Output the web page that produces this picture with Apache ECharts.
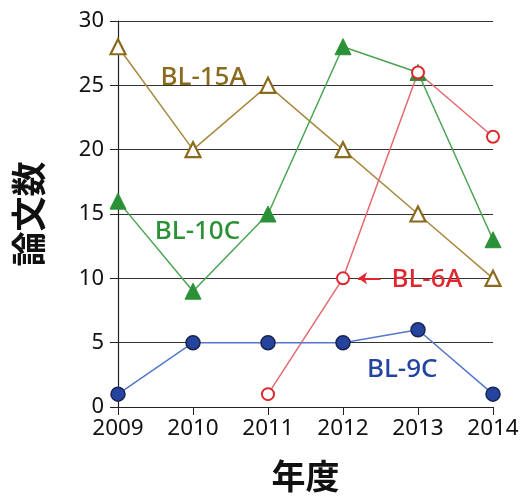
<!DOCTYPE html>
<html><head><meta charset="utf-8">
<script src="https://cdn.jsdelivr.net/npm/echarts@6/dist/echarts.min.js"></script>
<style>html,body{margin:0;padding:0;background:#fff}#c{width:526px;height:497px}</style>
</head><body><div id="c"></div>
<script>
const years = [2009, 2010, 2011, 2012, 2013, 2014];
const bl15A = [28, 20, 25, 20, 15, 10];
const bl10C = [16, 9, 15, 28, 26, 13];
const bl6A = [null, null, 1, 10, 26, 21];
const bl9C = [1, 5, 5, 5, 6, 1];
const yTicks = [0, 5, 10, 15, 20, 25, 30];

const pairs = arr => years.map((y, i) => [y, arr[i]]).filter(p => p[1] !== null);
const F = 'Noto Sans, DejaVu Sans, sans-serif';
const C15 = '#8a6a1c', C15L = '#a8893f';
const C10 = '#2b9136', C10L = '#4aa552';
const C6 = '#e0262e', C6L = '#e56a6f';
const C9 = '#2444a0', C9L = '#5478c8';

function label(text, x, y, color) {
  return { coord: [x, y], symbol: 'circle', symbolSize: 0,
    label: { show: true, position: 'inside', formatter: text, color: color, fontSize: 26, fontWeight: 500, fontFamily: F } };
}

const chart = echarts.init(document.getElementById('c'));
chart.setOption({
  animation: false,
  grid: { left: 118, right: 33, top: 21, bottom: 90, outerBoundsMode: 'none', containLabel: false },
  xAxis: {
    type: 'value', min: 2009, max: 2014, interval: 1,
    name: '年度', nameLocation: 'middle', nameGap: 52,
    nameTextStyle: { fontSize: 34, fontWeight: 'bold', color: '#111', fontFamily: 'Noto Sans CJK JP' },
    axisLine: { lineStyle: { color: '#222', width: 1.2 } },
    axisTick: { show: true, length: 8, lineStyle: { color: '#222' } },
    axisLabel: { formatter: v => String(v), fontSize: 22.5, color: '#111', margin: 10, fontFamily: F },
    splitLine: { show: false }
  },
  yAxis: {
    type: 'value', min: 0, max: 30, interval: 5,
    name: '論文数', nameLocation: 'middle', nameGap: 72, nameRotate: 90,
    nameTextStyle: { fontSize: 35, fontWeight: 'bold', color: '#111', fontFamily: 'Noto Sans CJK JP' },
    axisLine: { show: true, lineStyle: { color: '#222', width: 1.2 } },
    axisTick: { show: true, length: 8, lineStyle: { color: '#222' } },
    axisLabel: { fontSize: 22, color: '#111', margin: 14, fontFamily: F,
      formatter: v => yTicks.includes(v) ? String(v) : '' },
    splitLine: { show: true, lineStyle: { color: '#333', width: 1.2 } }
  },
  series: [
    { name: 'BL-15A', type: 'line', data: pairs(bl15A), symbol: 'triangle', symbolSize: 15,
      lineStyle: { color: C15L, width: 1.5 }, itemStyle: { color: '#fff', borderColor: C15, borderWidth: 2.2 },
      markPoint: { silent: true, data: [label('BL-15A', 2010.14, 25.6, C15)] } },
    { name: 'BL-10C', type: 'line', data: pairs(bl10C), symbol: 'triangle', symbolSize: 16,
      lineStyle: { color: C10L, width: 1.5 }, itemStyle: { color: C10, borderColor: C10, borderWidth: 1 },
      markPoint: { silent: true, data: [label('BL-10C', 2010.06, 13.6, C10)] } },
    { name: 'BL-6A', type: 'line', data: pairs(bl6A), symbol: 'circle', symbolSize: 12,
      lineStyle: { color: C6L, width: 1.5 }, itemStyle: { color: '#fff', borderColor: C6, borderWidth: 2 },
      markPoint: { silent: true, data: [label('BL-6A', 2013.12, 9.9, C6)] },
      markLine: { silent: true, symbol: ['arrow', 'none'], symbolSize: 9,
        lineStyle: { color: C6, width: 2, type: 'solid' }, label: { show: false },
        data: [[{ coord: [2012.2, 10] }, { coord: [2012.5, 10] }]] } },
    { name: 'BL-9C', type: 'line', data: pairs(bl9C), symbol: 'circle', symbolSize: 14,
      lineStyle: { color: C9L, width: 1.5 }, itemStyle: { color: C9, borderColor: '#1a2550', borderWidth: 1.5 },
      markPoint: { silent: true, data: [label('BL-9C', 2012.79, 2.9, C9)] } }
  ]
});
</script></body></html>
